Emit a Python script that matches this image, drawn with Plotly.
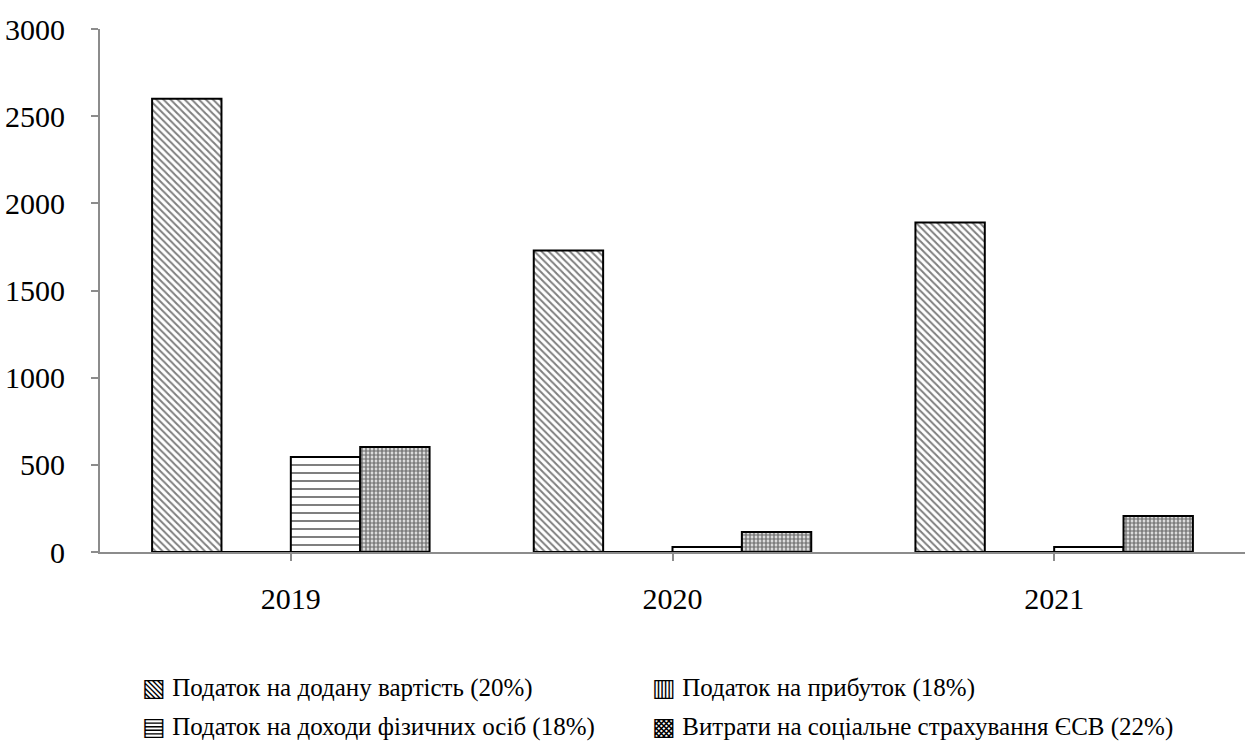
import plotly.graph_objects as go

years = ["2019", "2020", "2021"]
vat = [2600, 1730, 1890]
profit_tax = [0, 0, 0]
pit = [545, 28, 28]
esv = [602, 115, 207]

series_names = [
    "Податок на додану вартість (20%)",
    "Податок на прибуток (18%)",
    "Податок на доходи фізичних осіб (18%)",
    "Витрати на соціальне страхування ЄСВ (22%)",
]
legend_icons = ["▧", "▥", "▤", "▩"]
y_ticks = [0, 500, 1000, 1500, 2000, 2500, 3000]

FONT = "Liberation Serif"


def pattern_bar(name, values, shape, size, solidity):
    return go.Bar(
        name=name, x=years, y=values,
        marker=dict(
            color="white",
            line=dict(color="black", width=2),
            pattern=dict(shape=shape, fgcolor="black", bgcolor="white",
                         size=size, solidity=solidity, fillmode="overlay"),
        ),
    )


fig = go.Figure()
fig.add_trace(pattern_bar(series_names[0], vat, "\\", 5, 0.4))
fig.add_trace(pattern_bar(series_names[1], profit_tax, "|", 7, 0.3))
fig.add_trace(pattern_bar(series_names[2], pit, "-", 8, 0.25))
fig.add_trace(pattern_bar(series_names[3], esv, ".", 4, 0.7))

# the built-in legend ignores the serif family in this setup, so the legend
# is written as a 2x2 block of annotations with pattern glyphs as icons
label_x = [0.0349, 0.4803, 0.0349, 0.4803]
label_y = [-0.260, -0.260, -0.3346, -0.3346]
for icon, name, lx, ly in zip(legend_icons, series_names, label_x, label_y):
    fig.add_annotation(x=lx, y=ly, xref="paper", yref="paper",
                       xanchor="left", yanchor="middle", showarrow=False,
                       text=icon + " " + name,
                       font=dict(family=FONT, size=25, color="black"))

fig.update_layout(
    width=1258, height=749,
    template="none",
    plot_bgcolor="white", paper_bgcolor="white",
    font=dict(family=FONT, size=26, color="black"),
    barmode="group", bargap=0.273, bargroupgap=0,
    margin=dict(l=100, r=13, t=29, b=197, autoexpand=False),
    showlegend=False,
)
fig.update_xaxes(
    showline=True, linecolor="#8c8c8c", linewidth=2,
    showgrid=False, ticks="outside", tickson="boundaries",
    ticklen=7, tickcolor="#8c8c8c", tickwidth=2,
    tickfont=dict(family=FONT, size=30), zeroline=False,
    automargin=False, ticklabelstandoff=12,
)
fig.update_yaxes(
    range=[0, 3000], tickvals=y_ticks,
    showline=True, linecolor="#8c8c8c", linewidth=2,
    showgrid=False, ticks="outside", ticklen=7,
    tickcolor="#8c8c8c", tickwidth=2, zeroline=False,
    tickfont=dict(family=FONT, size=30), ticklabelstandoff=20,
    automargin=False,
)

fig.write_html("out.html", config={"displayModeBar": False},
               post_script="document.body.style.margin='0';")
